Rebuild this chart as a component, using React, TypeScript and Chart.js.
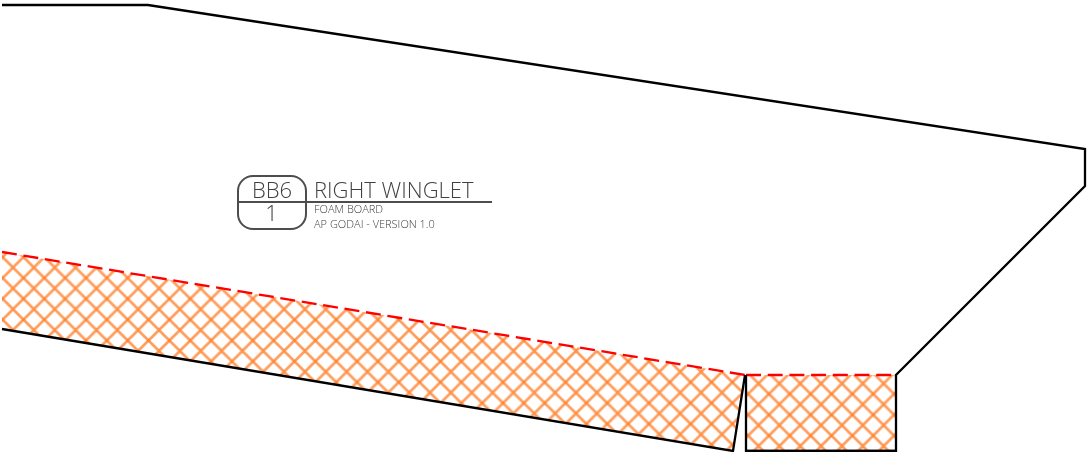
import React, { useEffect, useRef } from "react";
import { Chart, registerables } from "chart.js";

Chart.register(...registerables);

const outlineX = [2, 148, 1085, 1085, 896, 896, 746, 746];
const outlineY = [5, 5, 149, 186, 375, 451, 451, 375];
const lowerEdgeX = [2, 733, 745];
const lowerEdgeY = [329, 451, 375];
const foldTopX = [2, 745];
const foldTopY = [252, 375];
const tabTopX = [746, 896];
const tabTopY = [375, 375];
const tabBottomX = [746, 896];
const tabBottomY = [451, 451];
const titleText = "RIGHT WINGLET";
const sheetCode = "BB6";
const sheetNumber = "1";
const materialText = "FOAM BOARD";
const authorText = "AP GODAI - VERSION 1.0";

const toPts = (xs: number[], ys: number[]) => xs.map((x, i) => ({ x, y: ys[i] }));

function makeHatch(ctx: CanvasRenderingContext2D, ox: number, oy: number): CanvasPattern {
  const tile = 21;
  const c = document.createElement("canvas");
  c.width = tile;
  c.height = tile;
  const g = c.getContext("2d")!;
  g.strokeStyle = "rgba(255,120,30,0.72)";
  g.lineWidth = 2.7;
  for (const s of [-tile, 0, tile]) {
    g.beginPath();
    g.moveTo(s, 0);
    g.lineTo(s + tile, tile);
    g.stroke();
    g.beginPath();
    g.moveTo(s + tile, 0);
    g.lineTo(s, tile);
    g.stroke();
  }
  const p = ctx.createPattern(c, "repeat")!;
  const k = 20.85 / tile;
  p.setTransform(new DOMMatrix([k, 0, 0, k, ox, oy]));
  return p;
}

const titleBlock = {
  id: "titleBlock",
  afterDatasetsDraw(chart: any) {
    const { ctx, scales } = chart;
    const X = (v: number) => scales.x.getPixelForValue(v);
    const Y = (v: number) => scales.y.getPixelForValue(v);
    ctx.save();
    ctx.strokeStyle = "#4d4d4d";
    ctx.fillStyle = "#404040";
    ctx.lineWidth = 2;
    ctx.beginPath();
    ctx.roundRect(X(238), Y(176), X(306) - X(238), Y(229) - Y(176), 15);
    ctx.stroke();
    ctx.beginPath();
    ctx.moveTo(X(238), Y(202));
    ctx.lineTo(X(492), Y(202));
    ctx.stroke();
    ctx.textBaseline = "alphabetic";
    ctx.textAlign = "center";
    ctx.font = '300 22px "Open Sans"';
    ctx.fillText(sheetCode, X(272), Y(198));
    ctx.fillText(sheetNumber, X(271.5), Y(221));
    ctx.textAlign = "left";
    ctx.fillText(titleText, X(314), Y(198));
    ctx.font = '300 11px "Open Sans"';
    ctx.fillText(materialText, X(314), Y(213));
    ctx.fillText(authorText, X(314), Y(228));
    ctx.restore();
  },
};

export default function App() {
  const ref = useRef<HTMLCanvasElement>(null);
  useEffect(() => {
    document.body.style.margin = "0";
    const ctx = ref.current!.getContext("2d")!;
    const black = { borderColor: "#000", borderWidth: 2.3, pointRadius: 0, showLine: true, tension: 0 };
    const red = { borderColor: "#ff0000", borderWidth: 2.3, borderDash: [15, 6.7], pointRadius: 0, showLine: true, tension: 0 };
    const chart = new Chart(ctx, {
      type: "scatter",
      data: {
        datasets: [
          { data: toPts(outlineX, outlineY), ...black, fill: false, order: 0 },
          { data: toPts(foldTopX, foldTopY), ...red, fill: "+1", backgroundColor: makeHatch(ctx, 13, 267.5), order: 1 },
          { data: toPts(lowerEdgeX, lowerEdgeY), ...black, fill: false, order: 0 },
          { data: toPts(tabTopX, tabTopY), ...red, fill: "+1", backgroundColor: makeHatch(ctx, 758.5, 383.5), order: 1 },
          { data: toPts(tabBottomX, tabBottomY), ...black, fill: false, order: 0 },
        ],
      },
      options: {
        animation: false,
        responsive: false,
        devicePixelRatio: 1,
        layout: { padding: 0 },
        plugins: { legend: { display: false }, tooltip: { enabled: false }, title: { display: false } },
        scales: {
          x: { type: "linear", min: 0, max: 1089, display: false },
          y: { type: "linear", min: 0, max: 452, reverse: true, display: false },
        },
      },
      plugins: [titleBlock],
    } as any);
    return () => chart.destroy();
  }, []);
  return <canvas ref={ref} width={1089} height={452} style={{ display: "block" }} />;
}
